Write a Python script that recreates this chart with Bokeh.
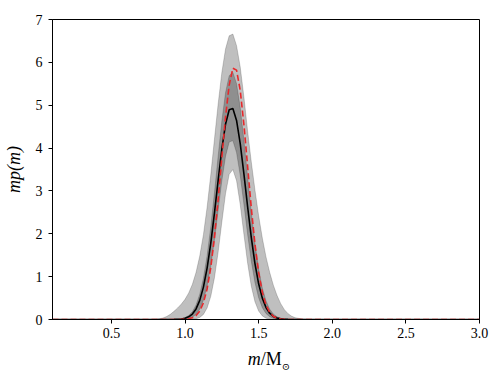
from bokeh.plotting import figure
from bokeh.models import Range1d, FixedTicker, Div
from bokeh.layouts import column
from bokeh.embed import file_html
from bokeh.resources import INLINE

# mass grid (m / M_sun)
mass = [0.1, 0.75, 0.8, 0.825, 0.85, 0.875, 0.9, 0.925, 0.95, 0.975,
        1.0, 1.025, 1.05, 1.075, 1.1, 1.125, 1.15, 1.175, 1.2, 1.225,
        1.25, 1.275, 1.3, 1.325, 1.35, 1.375, 1.4, 1.425, 1.45, 1.475,
        1.5, 1.525, 1.55, 1.575, 1.6, 1.625, 1.65, 1.675, 1.7, 1.725,
        1.75, 1.8, 1.85, 1.9, 3.0]

# median m p(m) (black line)
median = [0, 0, 0, 0, 0.0001, 0.0002, 0.0006, 0.002, 0.005, 0.012,
          0.028, 0.062, 0.128, 0.247, 0.446, 0.756, 1.200, 1.784, 2.486, 3.247,
          3.973, 4.555, 4.893, 4.924, 4.644, 4.104, 3.398, 2.637, 1.917, 1.305,
          0.833, 0.498, 0.279, 0.147, 0.072, 0.033, 0.014, 0.006, 0.002, 0.001,
          0.0003, 0, 0, 0, 0]

# true / injected distribution (red dashed)
true_dist = [0, 0, 0, 0, 0, 0, 0.0001, 0.0002, 0.0006, 0.002,
             0.006, 0.016, 0.039, 0.091, 0.195, 0.388, 0.713, 1.215, 1.916, 2.795,
             3.777, 4.724, 5.470, 5.864, 5.819, 5.345, 4.545, 3.579, 2.608, 1.759,
             1.099, 0.636, 0.340, 0.169, 0.077, 0.033, 0.013, 0.005, 0.0016, 0.0005,
             0.0001, 0, 0, 0, 0]

# outer credible band
outer_hi = [0, 0, 0.005, 0.015, 0.035, 0.07, 0.12, 0.19, 0.27, 0.36,
            0.47, 0.62, 0.82, 1.10, 1.48, 1.98, 2.62, 3.38, 4.21, 5.03,
            5.76, 6.31, 6.62, 6.66, 6.39, 5.89, 5.19, 4.40, 3.68, 3.02,
            2.42, 1.90, 1.46, 1.10, 0.80, 0.56, 0.37, 0.23, 0.135, 0.075,
            0.04, 0.01, 0.002, 0, 0]
outer_lo = [0, 0, 0, 0, 0, 0, 0, 0, 0, 0,
            0.0004, 0.002, 0.005, 0.017, 0.048, 0.119, 0.269, 0.542, 0.976, 1.573,
            2.271, 2.932, 3.387, 3.50, 3.240, 2.682, 1.987, 1.317, 0.782, 0.415,
            0.197, 0.084, 0.032, 0.011, 0.004, 0.001, 0, 0, 0, 0,
            0, 0, 0, 0, 0]

# inner credible band
inner_hi = [0, 0, 0, 0.0001, 0.0003, 0.001, 0.002, 0.004, 0.009, 0.020,
            0.045, 0.093, 0.183, 0.338, 0.588, 0.964, 1.488, 2.162, 2.959, 3.814,
            4.628, 5.288, 5.690, 5.766, 5.502, 4.944, 4.184, 3.333, 2.501, 1.767,
            1.176, 0.737, 0.435, 0.242, 0.126, 0.062, 0.029, 0.013, 0.005, 0.002,
            0.001, 0, 0, 0, 0]
inner_lo = [0, 0, 0, 0, 0, 0, 0, 0, 0.001, 0.003,
            0.009, 0.023, 0.055, 0.120, 0.242, 0.452, 0.782, 1.252, 1.856, 2.547,
            3.236, 3.805, 4.142, 4.174, 3.894, 3.363, 2.689, 1.990, 1.364, 0.865,
            0.508, 0.276, 0.139, 0.065, 0.028, 0.011, 0.004, 0.0015, 0, 0,
            0, 0, 0, 0, 0]

x_ticks = [0.5, 1.0, 1.5, 2.0, 2.5, 3.0]
x_tick_labels = ["0.5", "1.0", "1.5", "2.0", "2.5", "3.0"]
y_ticks = [0, 1, 2, 3, 4, 5, 6, 7]

SERIF = "Liberation Serif"

p = figure(width=492, height=344, output_backend="svg", toolbar_location=None,
           x_range=Range1d(0.1, 3.0), y_range=Range1d(0, 7),
           min_border_left=49, min_border_right=13, min_border_top=19,
           min_border_bottom=25)
p.background_fill_color = "white"
p.border_fill_color = "white"
p.outline_line_color = "black"
p.outline_line_width = 1
p.grid.visible = False

# bands
p.varea(x=mass, y1=outer_lo, y2=outer_hi, fill_color="black", fill_alpha=0.25)
p.varea(x=mass, y1=inner_lo, y2=inner_hi, fill_color="black", fill_alpha=0.25)
for arr in (outer_lo, outer_hi, inner_lo, inner_hi):
    p.line(mass, arr, line_color="black", line_alpha=0.18, line_width=1)

p.line(mass, median, line_color="black", line_width=1.6)
p.line(mass, true_dist, line_color="#e8282b", line_width=1.6, line_dash="6 3")

for ax in (p.xaxis[0], p.yaxis[0]):
    ax.major_tick_in = 0
    ax.major_tick_out = 4
    ax.minor_tick_line_color = None
    ax.axis_line_color = "black"
    ax.major_tick_line_color = "black"
    ax.major_label_text_font = SERIF
    ax.major_label_text_font_size = "14px"
    ax.major_label_text_color = "black"

p.xaxis[0].major_label_standoff = 4
p.yaxis[0].major_label_standoff = 6
p.xaxis[0].ticker = FixedTicker(ticks=x_ticks)
p.xaxis[0].major_label_overrides = {t: s for t, s in zip(x_ticks, x_tick_labels)}
p.yaxis[0].ticker = FixedTicker(ticks=y_ticks)

p.yaxis[0].axis_label = "mp(m)"
p.yaxis[0].axis_label_text_font = SERIF
p.yaxis[0].axis_label_text_font_style = "italic"
p.yaxis[0].axis_label_text_font_size = "18px"
p.yaxis[0].axis_label_standoff = 9
p.yaxis[0].axis_label_text_color = "black"

# x label: italic m, upright /M, subscript sun symbol
xlabel = Div(
    text=('<div style="width:456px; margin-left:36px; text-align:center; '
          'font-family:\'Liberation Serif\'; font-size:18px; color:black; line-height:20px;">'
          '<i>m</i>/M<sub style="font-size:10px; font-family:\'DejaVu Serif\';">&#8857;</sub></div>'),
    width=492, height=24)

layout = column(p, xlabel)
open("out.html", "w").write(file_html(layout, INLINE))
